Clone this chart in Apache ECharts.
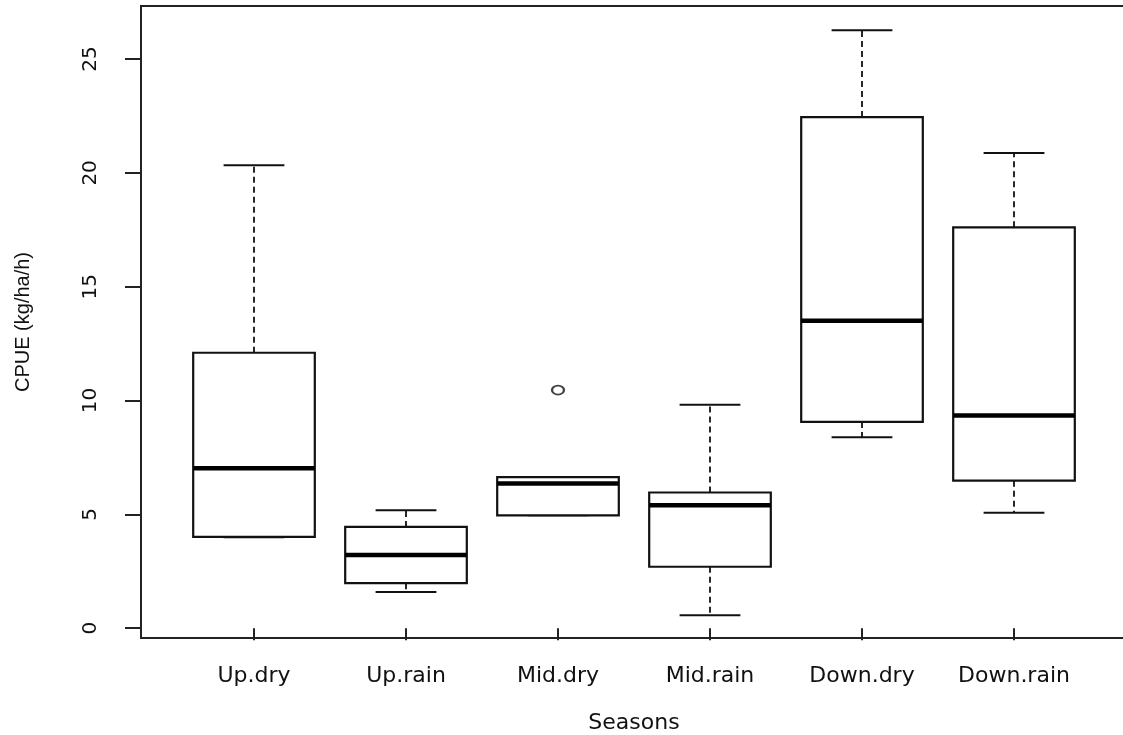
<!DOCTYPE html>
<html lang="en">
<head>
    <meta charset="UTF-8">
    <title>CPUE by season</title>
    <script src="https://cdn.jsdelivr.net/npm/echarts@6/dist/echarts.min.js"></script>
    <style type="text/css">
        html, body {
            margin: 0;
            padding: 0;
            background: #fff;
        }
        #main {
            width: 1123px;
            height: 735px;
        }
    </style>
</head>
<body>
<div id="main"></div>
<script>
    // values
    var categories = ['Up.dry', 'Up.rain', 'Mid.dry', 'Mid.rain', 'Down.dry', 'Down.rain'];
    var lowWhisker = [4.0, 1.59, 4.96, 0.57, 8.39, 5.07];
    var q1 = [4.01, 1.98, 4.96, 2.70, 9.06, 6.48];
    var median = [7.03, 3.22, 6.36, 5.40, 13.5, 9.34];
    var q3 = [12.1, 4.45, 6.64, 5.96, 22.45, 17.61];
    var highWhisker = [20.33, 5.18, 6.64, 9.81, 26.27, 20.87];
    var outliers = [['Mid.dry', 10.46]];
    var yTicks = [0, 5, 10, 15, 20, 25];

    var boxData = categories.map(function (c, i) {
        return [i, lowWhisker[i], q1[i], median[i], q3[i], highWhisker[i]];
    });

    var ink = '#111';

    function renderBox(params, api) {
        var idx = api.value(0);
        var band = api.size([1, 0])[0];
        var boxW = band * 0.8;
        var capW = band * 0.4;
        var pLo = api.coord([idx, api.value(1)]);
        var pQ1 = api.coord([idx, api.value(2)]);
        var pMed = api.coord([idx, api.value(3)]);
        var pQ3 = api.coord([idx, api.value(4)]);
        var pHi = api.coord([idx, api.value(5)]);
        var cx = pMed[0];
        var dashed = {stroke: ink, lineWidth: 1.8, lineDash: [6, 4]};
        var solid = {stroke: ink, lineWidth: 2};
        return {
            type: 'group',
            children: [
                {type: 'line', shape: {x1: cx, y1: pQ3[1], x2: cx, y2: pHi[1]}, style: dashed},
                {type: 'line', shape: {x1: cx, y1: pQ1[1], x2: cx, y2: pLo[1]}, style: dashed},
                {type: 'line', shape: {x1: cx - capW / 2, y1: pHi[1], x2: cx + capW / 2, y2: pHi[1]}, style: solid},
                {type: 'line', shape: {x1: cx - capW / 2, y1: pLo[1], x2: cx + capW / 2, y2: pLo[1]}, style: solid},
                {
                    type: 'rect',
                    shape: {x: cx - boxW / 2, y: pQ3[1], width: boxW, height: pQ1[1] - pQ3[1]},
                    style: {fill: '#fff', stroke: ink, lineWidth: 2.2}
                },
                {type: 'line', shape: {x1: cx - boxW / 2, y1: pMed[1], x2: cx + boxW / 2, y2: pMed[1]},
                    style: {stroke: '#000', lineWidth: 4.5}}
            ]
        };
    }

    var myChart = echarts.init(document.getElementById('main'));
    var option = {
        animation: false,
        backgroundColor: '#fff',
        grid: {left: 178, right: 33, top: 6, bottom: 97, outerBoundsMode: 'none', containLabel: false},
        graphic: [{
            type: 'rect',
            shape: {x: 141, y: 6, width: 990, height: 632},
            style: {fill: null, stroke: '#222', lineWidth: 2},
            z: 10,
            silent: true
        }],
        xAxis: {
            type: 'category',
            data: categories,
            boundaryGap: true,
            name: 'Seasons',
            nameLocation: 'middle',
            nameGap: 74,
            nameTextStyle: {fontFamily: 'DejaVu Sans', fontSize: 22, color: '#111'},
            axisLine: {show: false},
            axisTick: {show: true, alignWithLabel: true, length: 12, lineStyle: {color: '#222', width: 2}},
            axisLabel: {fontFamily: 'DejaVu Sans', fontSize: 22, color: '#111', margin: 27},
            splitLine: {show: false}
        },
        yAxis: {
            type: 'value',
            min: -0.43,
            max: 27.33,
            offset: 37,
            name: 'CPUE (kg/ha/h)',
            nameLocation: 'middle',
            nameRotate: 90,
            nameGap: 108,
            nameTextStyle: {fontFamily: 'Liberation Sans', fontSize: 20, color: '#111'},
            axisLine: {show: false},
            axisTick: {show: true, length: 16, customValues: yTicks, lineStyle: {color: '#222', width: 2}},
            axisLabel: {rotate: 90, fontFamily: 'DejaVu Sans', fontSize: 20, color: '#111', margin: 40,
                customValues: yTicks},
            splitLine: {show: false}
        },
        series: [
            {
                name: 'CPUE',
                type: 'custom',
                renderItem: renderBox,
                encode: {x: 0, y: [1, 2, 3, 4, 5]},
                data: boxData,
                z: 2
            },
            {
                name: 'outliers',
                type: 'scatter',
                symbol: 'emptyCircle',
                symbolSize: [12, 9],
                itemStyle: {color: ink, borderColor: ink, borderWidth: 1.8},
                data: outliers,
                z: 3
            }
        ]
    };
    myChart.setOption(option);
</script>
</body>
</html>
